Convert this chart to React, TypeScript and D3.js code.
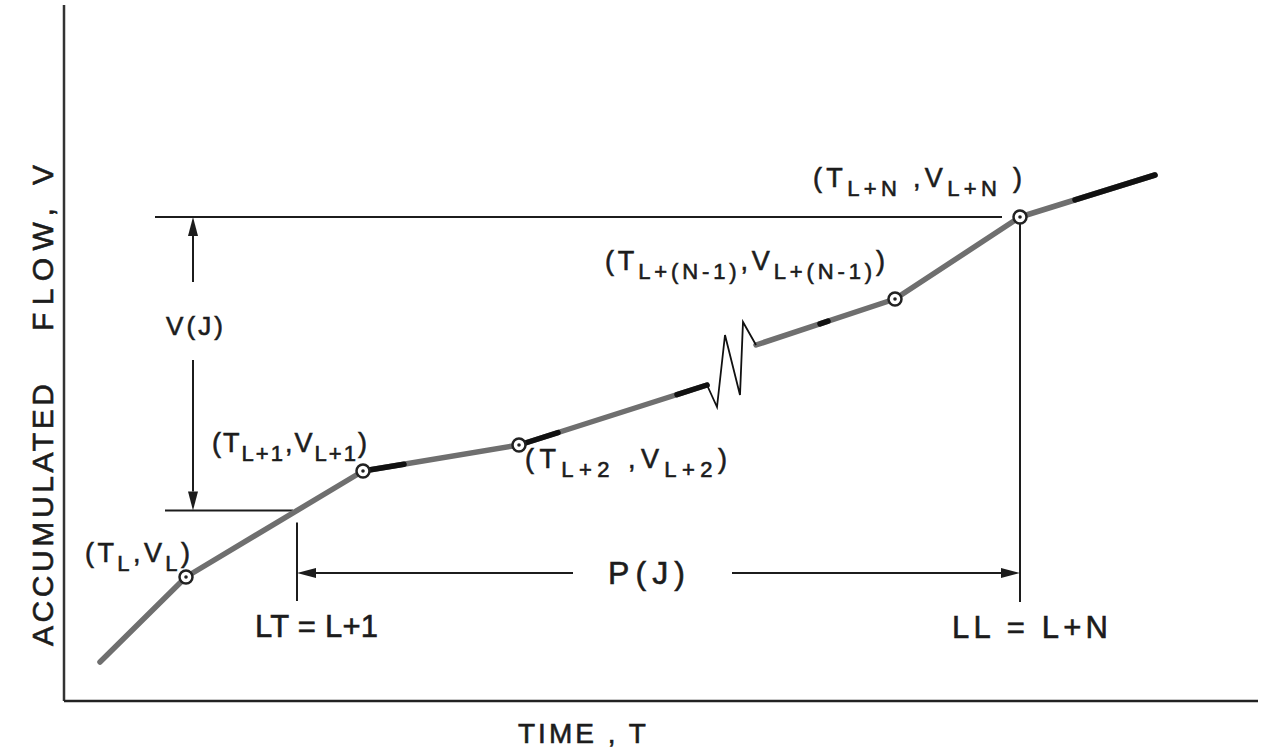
import React from 'react';
import * as d3 from 'd3';

const W = 1265;
const H = 752;

// accumulated flow curve (time, flow)
const lowerTime = [3.6, 12.2, 29.9, 45.5, 64.3];
const lowerFlow = [3.9, 12.4, 23.0, 25.6, 31.6];
const breakTime = [64.3, 65.3, 66.1, 67.6, 67.9, 69.2];
const breakFlow = [31.6, 29.4, 36.6, 30.6, 37.9, 35.6];
const upperTime = [69.2, 83.1, 95.6, 109.1];
const upperFlow = [35.6, 40.2, 48.4, 52.6];

// the marked points (T_L ... T_L+N)
const markTime = [12.2, 29.9, 45.5, 83.1, 95.6];
const markFlow = [12.4, 23.0, 25.6, 40.2, 48.4];
const markSub = ['L', 'L+1', 'L+2', 'L+(N-1)', 'L+N'];
const markLabels = [
  ['(T', 'L', ',V', 'L', ')'],
  ['(T', 'L+1', ',V', 'L+1', ')'],
  ['(T', 'L+2', ' ,V', 'L+2', ')'],
  ['(T', 'L+(N-1)', ',V', 'L+(N-1)', ')'],
  ['(T', 'L+N', ' ,V', 'L+N', ' )'],
];

// darker ink pieces along the curve (time from / to)
const inkFrom = [29.9, 45.5, 61.3, 75.6, 101.1];
const inkTo = [34.0, 49.4, 64.3, 76.4, 109.1];

// construction lines
const LT = 23.3;
const LL = 95.6;
const vjTime = 12.9;
const pjFlow = 12.8;

// label placement relative to each marked point (px)
const labelDx = [-101, -151, 6, -290, -207];
const labelDy = [-15, -19, 23, -29, -30];
const labelW = [105, 155, 202, 280, 209];

const FONT = '"Liberation Sans", Arial, sans-serif';
const INK = '#1c1c1c';
const GRAY = '#6f6f6f';

function Arrow({ x1, y1, x2, y2 }: { x1: number; y1: number; x2: number; y2: number }) {
  // head at (x2, y2)
  const len = 19, half = 5;
  const a = Math.atan2(y2 - y1, x2 - x1);
  const bx = x2 - len * Math.cos(a), by = y2 - len * Math.sin(a);
  const px = -Math.sin(a) * half, py = Math.cos(a) * half;
  return (
    <g>
      <line x1={x1} y1={y1} x2={bx} y2={by} stroke={INK} strokeWidth={2} />
      <polygon points={`${x2},${y2} ${bx + px},${by + py} ${bx - px},${by - py}`} fill={INK} />
    </g>
  );
}

export default function App() {
  const x = d3.scaleLinear().domain([0, 120]).range([64, 1264]);
  const y = d3.scaleLinear().domain([0, 70]).range([701, 1]);

  const allT = lowerTime.concat(upperTime);
  const allV = lowerFlow.concat(upperFlow);
  const flowAt = d3.scaleLinear().domain(allT).range(allV);

  const line = d3.line<[number, number]>().x(d => x(d[0])).y(d => y(d[1]));
  const zip = (ts: number[], vs: number[]) => ts.map((t, i) => [t, vs[i]] as [number, number]);

  const inkPath = (t0: number, t1: number) => {
    const ts = [t0, ...allT.filter(t => t > t0 && t < t1), t1];
    return line(ts.map(t => [t, flowAt(t)] as [number, number]));
  };

  const vLT = flowAt(LT);
  const vLL = flowAt(LL);

  const heavy = { stroke: INK, strokeWidth: 0.6 };

  return (
    <div style={{ position: 'absolute', left: 0, top: 0 }}>
      <svg width={W} height={H} style={{ display: 'block', background: '#fff' }}>
        {/* axes */}
        <line x1={x(0)} y1={y(69.6)} x2={x(0)} y2={y(0)} stroke="#333" strokeWidth={2.5} />
        <line x1={x(0)} y1={y(0)} x2={x(119.4)} y2={y(0)} stroke="#222" strokeWidth={2.5} />
        <text
          transform="translate(53, 515) rotate(-90)"
          textAnchor="middle"
          fontFamily={FONT}
          fontSize={30}
          fill={INK}
          textLength={262}
          lengthAdjust="spacing"
          {...heavy}
        >
          ACCUMULATED
        </text>
        <text
          transform="translate(53, 248) rotate(-90)"
          textAnchor="middle"
          fontFamily={FONT}
          fontSize={30}
          fill={INK}
          textLength={166}
          lengthAdjust="spacing"
          {...heavy}
        >
          FLOW, V
        </text>
        <text x={518} y={743} fontFamily={FONT} fontSize={28} fill={INK} letterSpacing={3} {...heavy}>
          TIME , T
        </text>

        {/* construction lines */}
        <line x1={x(9.1)} y1={y(vLL)} x2={x(93.8)} y2={y(vLL)} stroke={INK} strokeWidth={2} />
        <line x1={x(10.1)} y1={y(vLT)} x2={x(LT - 0.4)} y2={y(vLT)} stroke={INK} strokeWidth={2} />
        <line x1={x(LT)} y1={y(vLT - 1.2)} x2={x(LT)} y2={y(10.0)} stroke={INK} strokeWidth={2} />
        <line x1={x(LL)} y1={y(vLL)} x2={x(LL)} y2={y(9.9)} stroke={INK} strokeWidth={2} />

        <Arrow x1={x(vjTime)} y1={y(41.9)} x2={x(vjTime)} y2={y(vLL)} />
        <Arrow x1={x(vjTime)} y1={y(34.1)} x2={x(vjTime)} y2={y(vLT)} />
        <text x={x(vjTime) - 27} y={335} fontFamily={FONT} fontSize={26} fill={INK} textLength={57} lengthAdjust="spacing" {...heavy}>
          V(J)
        </text>

        <Arrow x1={x(50.9)} y1={y(pjFlow)} x2={x(LT)} y2={y(pjFlow)} />
        <Arrow x1={x(66.8)} y1={y(pjFlow)} x2={x(LL)} y2={y(pjFlow)} />
        <text x={608} y={584} fontFamily={FONT} fontSize={32} fill={INK} textLength={77} lengthAdjust="spacing" {...heavy}>
          P(J)
        </text>

        <text x={255} y={637} fontFamily={FONT} fontSize={31} fill={INK} textLength={123} lengthAdjust="spacing" {...heavy}>
          LT = L+1
        </text>
        <text x={952} y={638} fontFamily={FONT} fontSize={31} fill={INK} textLength={156} lengthAdjust="spacing" {...heavy}>
          LL = L+N
        </text>

        {/* curve */}
        <path d={line(zip(lowerTime, lowerFlow)) || ''} fill="none" stroke={GRAY} strokeWidth={5.5} strokeLinecap="round" strokeLinejoin="round" />
        <path d={line(zip(upperTime, upperFlow)) || ''} fill="none" stroke={GRAY} strokeWidth={5.5} strokeLinecap="round" strokeLinejoin="round" />
        {inkFrom.map((t0, i) => (
          <path key={i} d={inkPath(t0, inkTo[i]) || ''} fill="none" stroke="#111" strokeWidth={5.5} strokeLinecap="round" />
        ))}
        <path d={line(zip(breakTime, breakFlow)) || ''} fill="none" stroke="#111" strokeWidth={1.8} strokeLinejoin="miter" />

        {/* marked points */}
        {markTime.map((t, i) => (
          <g key={markSub[i]}>
            <circle cx={x(t)} cy={y(markFlow[i])} r={6.5} fill="#fff" stroke="#222" strokeWidth={2.5} />
            <circle cx={x(t)} cy={y(markFlow[i])} r={1.8} fill="#222" />
          </g>
        ))}

        {markLabels.map((parts, i) => (
          <text
            key={i}
            x={x(markTime[i]) + labelDx[i]}
            y={y(markFlow[i]) + labelDy[i]}
            fontFamily={FONT}
            fontSize={27}
            fill={INK}
            textLength={labelW[i]}
            lengthAdjust="spacing"
            {...heavy}
          >
            {parts.map((p, k) =>
              k % 2 === 1 ? (
                <tspan key={k} fontSize={22} dy={9}>{p}</tspan>
              ) : (
                <tspan key={k} dy={k === 0 ? 0 : -9}>{p}</tspan>
              )
            )}
          </text>
        ))}
      </svg>
    </div>
  );
}
